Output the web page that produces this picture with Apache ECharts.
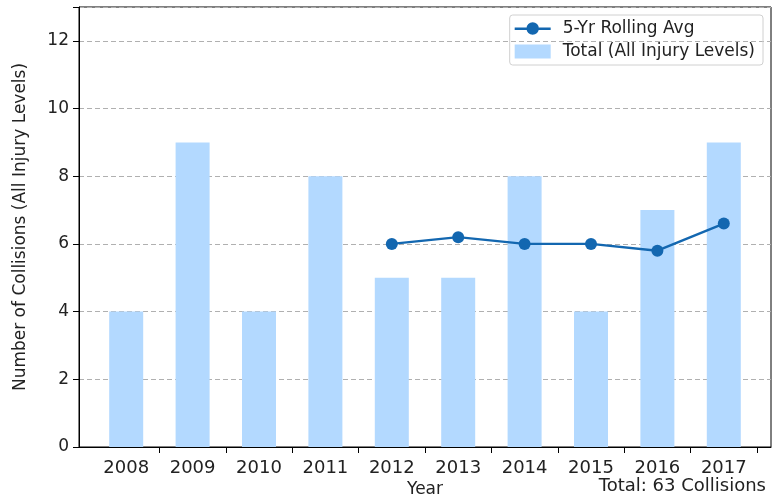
<!DOCTYPE html>
<html>
<head>
<meta charset="utf-8">
<script src="https://cdn.jsdelivr.net/npm/echarts@6/dist/echarts.min.js"></script>
<style>
  html, body { margin: 0; padding: 0; background: #fff; }
  #main { width: 781px; height: 500px; }
</style>
</head>
<body>
<div id="main"></div>
<script>
// data
var years = ['2008', '2009', '2010', '2011', '2012', '2013', '2014', '2015', '2016', '2017'];
var totals = [4, 9, 4, 8, 5, 5, 8, 4, 7, 9];
var rollingAvg = [null, null, null, null, 6.0, 6.2, 6.0, 6.0, 5.8, 6.6];
var yTicks = [0, 2, 4, 6, 8, 10, 12];

var FONT = 'DejaVu Sans';
var TXT = '#222';
var LINE = '#1367b0';

var chart = echarts.init(document.getElementById('main'), null, { renderer: 'canvas' });

chart.setOption({
    animation: false,
    textStyle: { fontFamily: FONT },
    title: {
        text: 'Total: ' + totals.reduce(function (a, b) { return a + b; }, 0) + ' Collisions',
        right: 10, bottom: 0,
        textStyle: { fontFamily: FONT, fontSize: 18, fontWeight: 'normal', color: TXT }
    },
    legend: {
        orient: 'vertical',
        right: 18, top: 15,
        padding: [5, 8, 5, 5],
        itemGap: 6,
        itemWidth: 36, itemHeight: 14,
        borderColor: '#d0d0d0', borderWidth: 1, borderRadius: 3,
        textStyle: { fontFamily: FONT, fontSize: 17, color: TXT, padding: [0, 0, 0, 7] },
        data: [
            { name: '5-Yr Rolling Avg', icon: 'path://M0,6 L36,6 L36,8.4 L0,8.4 Z M18,0.8 A6.2,6.2 0 1,1 18,13.2 A6.2,6.2 0 1,1 18,0.8 Z' },
            { name: 'Total (All Injury Levels)', icon: 'rect' }
        ]
    },
    grid: [
        // frame
        { left: 79, right: 10, top: 7, bottom: 53, show: true, borderColor: '#000', borderWidth: 1,
          containLabel: false, outerBoundsMode: 'none' },
        // data area (category bands)
        { left: 93, right: 24, top: 7, bottom: 53, containLabel: false, outerBoundsMode: 'none' }
    ],
    xAxis: [
        {
            gridIndex: 0, type: 'value', min: 0, max: 1,
            name: 'Year', nameLocation: 'middle', nameGap: 34,
            nameTextStyle: { fontFamily: FONT, fontSize: 17, color: TXT },
            axisLine: { show: true, lineStyle: { color: '#000' } },
            axisTick: { show: false }, axisLabel: { show: false }, splitLine: { show: false }
        },
        {
            gridIndex: 1, type: 'category', data: years,
            axisLine: { show: false },
            axisTick: { show: true, length: 6, lineStyle: { color: '#000' },
                interval: function (i) { return i !== 0; } },
            axisLabel: { fontFamily: FONT, fontSize: 18, color: TXT, margin: 12 },
            splitLine: { show: false }
        }
    ],
    yAxis: [
        {
            gridIndex: 0, type: 'value', min: 0, max: 13, interval: 2,
            name: 'Number of Collisions (All Injury Levels)', nameLocation: 'middle', nameGap: 50,
            nameTextStyle: { fontFamily: FONT, fontSize: 17, color: TXT },
            axisLine: { show: true, lineStyle: { color: '#000' } },
            axisTick: { show: true, length: 6, lineStyle: { color: '#000' } },
            axisLabel: { fontFamily: FONT, fontSize: 17, color: TXT, margin: 10,
                formatter: function (v) { return yTicks.indexOf(v) >= 0 ? v : ''; } },
            splitLine: { show: true, lineStyle: { color: '#b0b0b0', type: [5, 3], width: 1 } }
        },
        {
            gridIndex: 1, type: 'value', min: 0, max: 13, show: false
        }
    ],
    series: [
        {
            name: 'Total (All Injury Levels)', type: 'bar',
            xAxisIndex: 1, yAxisIndex: 1,
            data: totals, barWidth: 34,
            itemStyle: { color: '#b3d9ff' },
            z: 2
        },
        {
            name: '5-Yr Rolling Avg', type: 'line',
            xAxisIndex: 1, yAxisIndex: 1,
            data: rollingAvg,
            symbol: 'circle', symbolSize: 12, showSymbol: true,
            lineStyle: { color: LINE, width: 2.4 },
            itemStyle: { color: LINE },
            z: 3
        }
    ]
});
</script>
</body>
</html>
